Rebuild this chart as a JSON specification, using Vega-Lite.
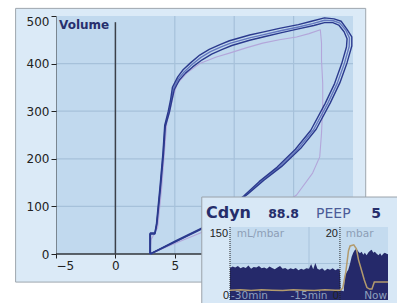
{
"$schema": "https://vega.github.io/schema/vega-lite/v6.json",
"width": 297, "height": 238,
"autosize": {"type": "none"},
"padding": {"left": 56, "top": 16, "right": 44, "bottom": 49},
"background": "white",
"config": {
  "view": {"stroke": null},
  "font": "DejaVu Sans"
},
"datasets": {
  "pv": [
    {"loop":"A","i":0,"p":2.9,"v":0},{"loop":"A","i":1,"p":2.9,"v":42},{"loop":"A","i":2,"p":3.3,"v":42},{"loop":"A","i":3,"p":3.45,"v":62},{"loop":"A","i":4,"p":3.75,"v":140},{"loop":"A","i":5,"p":4.0,"v":212},{"loop":"A","i":6,"p":4.15,"v":270},{"loop":"A","i":7,"p":4.45,"v":300},{"loop":"A","i":8,"p":4.65,"v":325},{"loop":"A","i":9,"p":4.8,"v":350},{"loop":"A","i":10,"p":5.25,"v":372},{"loop":"A","i":11,"p":5.7,"v":387},{"loop":"A","i":12,"p":6.3,"v":401},{"loop":"A","i":13,"p":7.1,"v":418},{"loop":"A","i":14,"p":7.9,"v":430},{"loop":"A","i":15,"p":8.8,"v":440},{"loop":"A","i":16,"p":9.6,"v":448},{"loop":"A","i":17,"p":11.3,"v":460},{"loop":"A","i":18,"p":12.4,"v":466},{"loop":"A","i":19,"p":13.8,"v":474},{"loop":"A","i":20,"p":15.4,"v":482},{"loop":"A","i":21,"p":16.5,"v":489},{"loop":"A","i":22,"p":17.6,"v":496},{"loop":"A","i":23,"p":18.4,"v":494},{"loop":"A","i":24,"p":19.0,"v":489},{"loop":"A","i":25,"p":19.5,"v":472},{"loop":"A","i":26,"p":19.9,"v":456},{"loop":"A","i":27,"p":19.9,"v":437},{"loop":"A","i":28,"p":19.5,"v":402},{"loop":"A","i":29,"p":18.9,"v":360},{"loop":"A","i":30,"p":18.1,"v":318},{"loop":"A","i":31,"p":16.9,"v":262},{"loop":"A","i":32,"p":15.6,"v":222},{"loop":"A","i":33,"p":14.0,"v":184},{"loop":"A","i":34,"p":12.5,"v":155},{"loop":"A","i":35,"p":11.1,"v":125},{"loop":"A","i":36,"p":9.2,"v":90},{"loop":"A","i":37,"p":7.3,"v":55},{"loop":"A","i":38,"p":5.1,"v":28},{"loop":"A","i":39,"p":2.9,"v":0},
    {"loop":"B","i":0,"p":2.95,"v":0},{"loop":"B","i":1,"p":2.95,"v":44},{"loop":"B","i":2,"p":3.35,"v":44},{"loop":"B","i":3,"p":3.5,"v":64},{"loop":"B","i":4,"p":3.8,"v":140},{"loop":"B","i":5,"p":4.05,"v":210},{"loop":"B","i":6,"p":4.2,"v":268},{"loop":"B","i":7,"p":4.55,"v":298},{"loop":"B","i":8,"p":4.75,"v":322},{"loop":"B","i":9,"p":4.95,"v":345},{"loop":"B","i":10,"p":5.4,"v":366},{"loop":"B","i":11,"p":5.9,"v":380},{"loop":"B","i":12,"p":6.5,"v":393},{"loop":"B","i":13,"p":7.3,"v":408},{"loop":"B","i":14,"p":8.1,"v":420},{"loop":"B","i":15,"p":9.0,"v":430},{"loop":"B","i":16,"p":9.8,"v":438},{"loop":"B","i":17,"p":11.3,"v":449},{"loop":"B","i":18,"p":12.6,"v":457},{"loop":"B","i":19,"p":14.0,"v":465},{"loop":"B","i":20,"p":15.4,"v":473},{"loop":"B","i":21,"p":16.7,"v":480},{"loop":"B","i":22,"p":17.6,"v":486},{"loop":"B","i":23,"p":18.3,"v":486},{"loop":"B","i":24,"p":18.8,"v":481},{"loop":"B","i":25,"p":19.25,"v":467},{"loop":"B","i":26,"p":19.5,"v":452},{"loop":"B","i":27,"p":19.45,"v":435},{"loop":"B","i":28,"p":19.05,"v":400},{"loop":"B","i":29,"p":18.45,"v":358},{"loop":"B","i":30,"p":17.65,"v":316},{"loop":"B","i":31,"p":16.45,"v":260},{"loop":"B","i":32,"p":15.15,"v":220},{"loop":"B","i":33,"p":13.6,"v":182},{"loop":"B","i":34,"p":12.1,"v":152},{"loop":"B","i":35,"p":10.8,"v":122},{"loop":"B","i":36,"p":9.0,"v":87},{"loop":"B","i":37,"p":7.2,"v":52},{"loop":"B","i":38,"p":5.0,"v":25},{"loop":"B","i":39,"p":2.95,"v":0},
    {"loop":"C","i":0,"p":2.92,"v":0},{"loop":"C","i":1,"p":2.92,"v":43},{"loop":"C","i":2,"p":3.32,"v":43},{"loop":"C","i":3,"p":3.48,"v":63},{"loop":"C","i":4,"p":3.78,"v":140},{"loop":"C","i":5,"p":4.02,"v":211},{"loop":"C","i":6,"p":4.18,"v":269},{"loop":"C","i":7,"p":4.5,"v":299},{"loop":"C","i":8,"p":4.7,"v":323},{"loop":"C","i":9,"p":4.88,"v":347},{"loop":"C","i":10,"p":5.32,"v":369},{"loop":"C","i":11,"p":5.8,"v":383},{"loop":"C","i":12,"p":6.4,"v":397},{"loop":"C","i":13,"p":7.2,"v":413},{"loop":"C","i":14,"p":8.0,"v":425},{"loop":"C","i":15,"p":8.9,"v":435},{"loop":"C","i":16,"p":9.7,"v":443},{"loop":"C","i":17,"p":11.3,"v":454},{"loop":"C","i":18,"p":12.5,"v":461},{"loop":"C","i":19,"p":13.9,"v":469},{"loop":"C","i":20,"p":15.4,"v":477},{"loop":"C","i":21,"p":16.6,"v":484},{"loop":"C","i":22,"p":17.6,"v":491},{"loop":"C","i":23,"p":18.35,"v":490},{"loop":"C","i":24,"p":18.9,"v":485},{"loop":"C","i":25,"p":19.4,"v":470},{"loop":"C","i":26,"p":19.7,"v":454},{"loop":"C","i":27,"p":19.68,"v":436},{"loop":"C","i":28,"p":19.28,"v":401},{"loop":"C","i":29,"p":18.68,"v":359},{"loop":"C","i":30,"p":17.88,"v":317},{"loop":"C","i":31,"p":16.68,"v":261},{"loop":"C","i":32,"p":15.38,"v":221},{"loop":"C","i":33,"p":13.8,"v":183},{"loop":"C","i":34,"p":12.3,"v":153},{"loop":"C","i":35,"p":10.95,"v":123},{"loop":"C","i":36,"p":9.1,"v":88},{"loop":"C","i":37,"p":7.25,"v":53},{"loop":"C","i":38,"p":5.05,"v":26},{"loop":"C","i":39,"p":2.92,"v":0},
    {"loop":"P","i":0,"p":2.9,"v":0},{"loop":"P","i":1,"p":3.0,"v":30},{"loop":"P","i":2,"p":3.55,"v":55},{"loop":"P","i":3,"p":3.9,"v":140},{"loop":"P","i":4,"p":4.12,"v":212},{"loop":"P","i":5,"p":4.32,"v":275},{"loop":"P","i":6,"p":4.62,"v":305},{"loop":"P","i":7,"p":4.85,"v":330},{"loop":"P","i":8,"p":5.2,"v":358},{"loop":"P","i":9,"p":6.0,"v":380},{"loop":"P","i":10,"p":7.1,"v":400},{"loop":"P","i":11,"p":8.5,"v":414},{"loop":"P","i":12,"p":9.6,"v":422},{"loop":"P","i":13,"p":11.0,"v":433},{"loop":"P","i":14,"p":12.4,"v":443},{"loop":"P","i":15,"p":13.8,"v":450},{"loop":"P","i":16,"p":15.25,"v":456},{"loop":"P","i":17,"p":16.3,"v":463},{"loop":"P","i":18,"p":17.25,"v":471},{"loop":"P","i":19,"p":17.35,"v":443},{"loop":"P","i":20,"p":17.35,"v":407},{"loop":"P","i":21,"p":17.45,"v":359},{"loop":"P","i":22,"p":17.45,"v":309},{"loop":"P","i":23,"p":17.35,"v":254},{"loop":"P","i":24,"p":17.2,"v":204},{"loop":"P","i":25,"p":16.6,"v":170},{"loop":"P","i":26,"p":15.25,"v":124},{"loop":"P","i":27,"p":13.5,"v":95},{"loop":"P","i":28,"p":11.0,"v":75},{"loop":"P","i":29,"p":7.5,"v":48},{"loop":"P","i":30,"p":5.0,"v":22},{"loop":"P","i":31,"p":2.9,"v":0}
  ],
  "cdyn": [
    {"t":-30,"c":66},{"t":-29.5,"c":69},{"t":-29,"c":67},{"t":-28.5,"c":70},{"t":-28,"c":65},{"t":-27.5,"c":68},{"t":-27,"c":66},{"t":-26.5,"c":71},{"t":-26,"c":64},{"t":-25.5,"c":68},{"t":-25,"c":67},{"t":-24.5,"c":70},{"t":-24,"c":65},{"t":-23.5,"c":67},{"t":-23,"c":64},{"t":-22.5,"c":69},{"t":-22,"c":66},{"t":-21.5,"c":63},{"t":-21,"c":67},{"t":-20.5,"c":70},{"t":-20,"c":64},{"t":-19.5,"c":66},{"t":-19,"c":62},{"t":-18.5,"c":65},{"t":-18,"c":63},{"t":-17.5,"c":66},{"t":-17,"c":61},{"t":-16.5,"c":64},{"t":-16,"c":62},{"t":-15.5,"c":65},{"t":-15,"c":64},{"t":-14.6,"c":74},{"t":-14.2,"c":63},{"t":-13.8,"c":76},{"t":-13.4,"c":64},{"t":-13,"c":62},{"t":-12.5,"c":65},{"t":-12,"c":60},{"t":-11.5,"c":64},{"t":-11,"c":62},{"t":-10.5,"c":65},{"t":-10,"c":61},{"t":-9.5,"c":64},{"t":-9.15,"c":62},
    {"t":-9.0,"c":20},{"t":-8.4,"c":18},{"t":-8.2,"c":50},{"t":-7.9,"c":56},{"t":-7.55,"c":62},{"t":-7.2,"c":75},{"t":-6.9,"c":89},{"t":-6.6,"c":97},{"t":-6.27,"c":103},{"t":-5.95,"c":105},{"t":-5.6,"c":99},{"t":-5.33,"c":96},{"t":-5.0,"c":99},{"t":-4.7,"c":93},{"t":-4.4,"c":97},{"t":-4.06,"c":92},{"t":-3.7,"c":98},{"t":-3.4,"c":101},{"t":-3.1,"c":103},{"t":-2.8,"c":97},{"t":-2.5,"c":99},{"t":-2.15,"c":95},{"t":-1.8,"c":92},{"t":-1.5,"c":96},{"t":-1.2,"c":91},{"t":-0.9,"c":95},{"t":-0.6,"c":97},{"t":-0.26,"c":95},{"t":0,"c":94}
  ],
  "peep": [
    {"t":-30,"p":2.7},{"t":-28,"p":2.8},{"t":-26,"p":2.6},{"t":-24,"p":2.8},{"t":-22,"p":2.7},{"t":-20,"p":2.6},{"t":-18,"p":2.8},{"t":-16,"p":2.7},{"t":-14,"p":2.6},{"t":-12,"p":2.8},{"t":-10,"p":2.7},{"t":-9.1,"p":2.7},{"t":-8.6,"p":3.2},{"t":-8.0,"p":7.8},{"t":-7.5,"p":13.5},{"t":-7.2,"p":14.8},{"t":-6.5,"p":15.1},{"t":-6.0,"p":14.0},{"t":-5.6,"p":11.0},{"t":-5.0,"p":8.0},{"t":-4.5,"p":5.5},{"t":-4.0,"p":3.4},{"t":-3.5,"p":3.0},{"t":-3.05,"p":3.0},{"t":-2.6,"p":4.9},{"t":0,"p":4.9}
  ]
},
"layer": [
  {
    "layer": [
      {"data": {"values": [{}]}, "mark": {"type": "rect", "fill": "#dbeaf7", "stroke": "#9ea6ae", "strokeWidth": 1},
       "encoding": {
         "x": {"datum": -8.4, "type": "quantitative", "scale": {"domain": [-5, 20], "nice": false, "zero": false},
               "axis": {"values": [-5, 0, 5], "title": null, "zindex": 1, "grid": false, "domain": false, "tickSize": 4, "tickColor": "#222222", "labelColor": "#222222", "labelFont": "DejaVu Sans", "labelFontSize": 12, "labelPadding": 2}},
         "x2": {"datum": 21.07},
         "y": {"datum": -59, "type": "quantitative", "scale": {"domain": [0, 500], "nice": false, "zero": false},
               "axis": {"values": [0, 100, 200, 300, 400, 500], "title": null, "zindex": 1, "grid": false, "domainColor": "#333333", "domainDash": [1, 1], "domainWidth": 1, "tickSize": 5, "tickColor": "#222222", "labelColor": "#222222", "labelFont": "DejaVu Sans", "labelFontSize": 12, "labelPadding": 2,
                        "labelBaseline": {"condition": {"test": "datum.value == 500", "value": "top"}, "value": "middle"}}},
         "y2": {"datum": 516}}},
      {"data": {"values": [{}]}, "mark": {"type": "rect", "fill": "#c1d9ee"},
       "encoding": {"x": {"datum": -5, "type": "quantitative"}, "x2": {"datum": 20}, "y": {"datum": 0, "type": "quantitative"}, "y2": {"datum": 500}}},
      {"data": {"values": [{"p": 5}, {"p": 10}, {"p": 15}]}, "mark": {"type": "rule", "stroke": "#a6c1da", "strokeWidth": 1.2},
       "encoding": {"x": {"field": "p", "type": "quantitative", "title": null}, "y": {"datum": 0, "type": "quantitative"}, "y2": {"datum": 500}}},
      {"data": {"values": [{"v": 100}, {"v": 200}, {"v": 300}, {"v": 400}]}, "mark": {"type": "rule", "stroke": "#a6c1da", "strokeWidth": 1.2},
       "encoding": {"y": {"field": "v", "type": "quantitative", "title": null}, "x": {"datum": -5, "type": "quantitative"}, "x2": {"datum": 20}}},
      {"data": {"values": [{}]}, "mark": {"type": "rule", "stroke": "#30343a", "strokeWidth": 1.5},
       "encoding": {"x": {"datum": -5, "type": "quantitative"}, "x2": {"datum": 20}, "y": {"datum": 0, "type": "quantitative"}}},
      {"data": {"values": [{}]}, "mark": {"type": "rule", "stroke": "#3b4048", "strokeWidth": 1.5},
       "encoding": {"x": {"datum": 0, "type": "quantitative"}, "y": {"datum": 0, "type": "quantitative"}, "y2": {"datum": 487}}},
      {"data": {"values": [{"t": "Volume"}]}, "mark": {"type": "text", "align": "left", "baseline": "middle", "font": "DejaVu Sans", "fontWeight": "bold", "fontSize": 12, "fill": "#272f6d", "dx": 3, "dy": 9},
       "encoding": {"x": {"datum": -5, "type": "quantitative"}, "y": {"datum": 500, "type": "quantitative"}, "text": {"field": "t"}}},
      {"data": {"name": "pv"}, "transform": [{"filter": "datum.loop == 'P'"}], "mark": {"type": "line", "stroke": "#b3a6da", "strokeWidth": 1.1, "strokeJoin": "round"},
       "encoding": {"x": {"field": "p", "type": "quantitative", "title": null}, "y": {"field": "v", "type": "quantitative", "title": null}, "order": {"field": "i", "type": "quantitative"}}},
      {"data": {"name": "pv"}, "transform": [{"filter": "datum.loop == 'C'"}], "mark": {"type": "line", "stroke": "#6477bf", "strokeWidth": 1.4, "strokeJoin": "round"},
       "encoding": {"x": {"field": "p", "type": "quantitative", "title": null}, "y": {"field": "v", "type": "quantitative", "title": null}, "order": {"field": "i", "type": "quantitative"}}},
      {"data": {"name": "pv"}, "transform": [{"filter": "datum.loop == 'A'"}], "mark": {"type": "line", "stroke": "#2b3a8e", "strokeWidth": 1.4, "strokeJoin": "round"},
       "encoding": {"x": {"field": "p", "type": "quantitative", "title": null}, "y": {"field": "v", "type": "quantitative", "title": null}, "order": {"field": "i", "type": "quantitative"}}},
      {"data": {"name": "pv"}, "transform": [{"filter": "datum.loop == 'B'"}], "mark": {"type": "line", "stroke": "#2b3a8e", "strokeWidth": 1.4, "strokeJoin": "round"},
       "encoding": {"x": {"field": "p", "type": "quantitative", "title": null}, "y": {"field": "v", "type": "quantitative", "title": null}, "order": {"field": "i", "type": "quantitative"}}},
      {"data": {"values": [{}]}, "mark": {"type": "rect", "fill": "#d8e8f6", "stroke": "#9aa2aa", "strokeWidth": 1},
       "encoding": {"x": {"datum": 7.27, "type": "quantitative"}, "x2": {"datum": 24.5}, "y": {"datum": -125, "type": "quantitative"}, "y2": {"datum": 119.7}}}
    ]
  },
  {
    "layer": [
      {
        "layer": [
          {"data": {"values": [{}]}, "mark": {"type": "rect", "fill": "#c4dbef"},
           "encoding": {
             "x": {"datum": -30, "type": "quantitative", "scale": {"domain": [-30, 0], "range": [174, 332], "nice": false, "zero": false}, "axis": null},
             "x2": {"datum": 0},
             "y": {"datum": 0, "type": "quantitative", "scale": {"domain": [0, 150], "range": [284, 211], "nice": false, "zero": false}, "axis": null},
             "y2": {"datum": 150}}},
          {"data": {"values": [{"t": -15}]}, "mark": {"type": "rule", "stroke": "#a8c3dc", "strokeWidth": 1},
           "encoding": {"x": {"field": "t", "type": "quantitative", "axis": null}, "y": {"datum": 0, "type": "quantitative", "axis": null}, "y2": {"datum": 150}}},
          {"data": {"values": [{"c": 75}]}, "mark": {"type": "rule", "stroke": "#a8c3dc", "strokeWidth": 1},
           "encoding": {"y": {"field": "c", "type": "quantitative", "axis": null}, "x": {"datum": -30, "type": "quantitative", "axis": null}, "x2": {"datum": 0}}},
          {"data": {"name": "cdyn"}, "mark": {"type": "area", "fill": "#25296a", "interpolate": "linear"},
           "encoding": {"x": {"field": "t", "type": "quantitative", "axis": null}, "y": {"field": "c", "type": "quantitative", "axis": null}, "y2": {"datum": 0}}},
          {"data": {"values": [{"t": -30}, {"t": -9.12}]}, "mark": {"type": "rule", "stroke": "#222222", "strokeWidth": 1, "strokeDash": [1, 1]},
           "encoding": {"x": {"field": "t", "type": "quantitative", "axis": null}, "y": {"datum": 0, "type": "quantitative", "axis": null}, "y2": {"datum": 150}}},
          {"data": {"values": [{"lab": "150", "t": -30, "c": 150}, {"lab": "20", "t": -9.12, "c": 150}]}, "mark": {"type": "text", "align": "right", "baseline": "top", "font": "Liberation Sans", "fontSize": 11, "fill": "#222222", "dx": -2, "dy": 1},
           "encoding": {"x": {"field": "t", "type": "quantitative", "axis": null}, "y": {"field": "c", "type": "quantitative", "axis": null}, "text": {"field": "lab"}}},
          {"data": {"values": [{"lab": "0", "t": -30, "c": 0}, {"lab": "0", "t": -9.12, "c": 0}]}, "mark": {"type": "text", "align": "right", "baseline": "bottom", "font": "Liberation Sans", "fontSize": 11, "fill": "#222222", "dx": -1, "dy": 1},
           "encoding": {"x": {"field": "t", "type": "quantitative", "axis": null}, "y": {"field": "c", "type": "quantitative", "axis": null}, "text": {"field": "lab"}}},
          {"data": {"values": [{"u": "mL/mbar", "t": -28.7}, {"u": "mbar", "t": -8.0}]}, "mark": {"type": "text", "align": "left", "baseline": "top", "font": "DejaVu Sans", "fontSize": 10.5, "fill": "#8d9eb6", "dy": 2},
           "encoding": {"x": {"field": "t", "type": "quantitative", "axis": null}, "y": {"datum": 150, "type": "quantitative", "axis": null}, "text": {"field": "u"}}},
          {"data": {"values": [{"lab": "-30min"}]}, "mark": {"type": "text", "align": "left", "baseline": "alphabetic", "font": "DejaVu Sans", "fontSize": 10.5, "fill": "#8fa0bd", "dx": 1, "dy": -1},
           "encoding": {"x": {"datum": -30, "type": "quantitative", "axis": null}, "y": {"datum": 0, "type": "quantitative", "axis": null}, "text": {"field": "lab"}}},
          {"data": {"values": [{"lab": "-15min"}]}, "mark": {"type": "text", "align": "center", "baseline": "alphabetic", "font": "DejaVu Sans", "fontSize": 10.5, "fill": "#8fa0bd", "dy": -1},
           "encoding": {"x": {"datum": -15, "type": "quantitative", "axis": null}, "y": {"datum": 0, "type": "quantitative", "axis": null}, "text": {"field": "lab"}}},
          {"data": {"values": [{"lab": "Now"}]}, "mark": {"type": "text", "align": "right", "baseline": "alphabetic", "font": "DejaVu Sans", "fontSize": 10.5, "fill": "#8fa0bd", "dx": -1, "dy": -1},
           "encoding": {"x": {"datum": 0, "type": "quantitative", "axis": null}, "y": {"datum": 0, "type": "quantitative", "axis": null}, "text": {"field": "lab"}}},
          {"data": {"values": [{"lab": "Cdyn"}]}, "mark": {"type": "text", "align": "left", "baseline": "alphabetic", "font": "DejaVu Sans", "fontWeight": "bold", "fontSize": 16, "fill": "#262e6b"},
           "encoding": {"x": {"datum": -34.56, "type": "quantitative", "axis": null}, "y": {"datum": 168, "type": "quantitative", "axis": null}, "text": {"field": "lab"}}},
          {"data": {"values": [{"lab": "88.8"}]}, "mark": {"type": "text", "align": "right", "baseline": "alphabetic", "font": "DejaVu Sans", "fontWeight": "bold", "fontSize": 12.5, "fill": "#262e6b"},
           "encoding": {"x": {"datum": -16.9, "type": "quantitative", "axis": null}, "y": {"datum": 168, "type": "quantitative", "axis": null}, "text": {"field": "lab"}}},
          {"data": {"values": [{"lab": "PEEP"}]}, "mark": {"type": "text", "align": "left", "baseline": "alphabetic", "font": "DejaVu Sans", "fontSize": 14, "fill": "#4c5c98"},
           "encoding": {"x": {"datum": -13.67, "type": "quantitative", "axis": null}, "y": {"datum": 168, "type": "quantitative", "axis": null}, "text": {"field": "lab"}}},
          {"data": {"values": [{"lab": "5"}]}, "mark": {"type": "text", "align": "right", "baseline": "alphabetic", "font": "DejaVu Sans", "fontWeight": "bold", "fontSize": 14, "fill": "#262e6b"},
           "encoding": {"x": {"datum": -1.33, "type": "quantitative", "axis": null}, "y": {"datum": 168, "type": "quantitative", "axis": null}, "text": {"field": "lab"}}}
        ]
      },
      {"data": {"name": "peep"}, "mark": {"type": "line", "stroke": "#b39b6d", "strokeWidth": 1.5, "interpolate": "linear"},
       "encoding": {"x": {"field": "t", "type": "quantitative", "axis": null},
                    "y": {"field": "p", "type": "quantitative", "scale": {"domain": [0, 20], "range": [284, 211], "nice": false, "zero": false}, "axis": null}}}
    ],
    "resolve": {"scale": {"y": "independent"}}
  }
],
"resolve": {"scale": {"x": "independent", "y": "independent"}}
}
